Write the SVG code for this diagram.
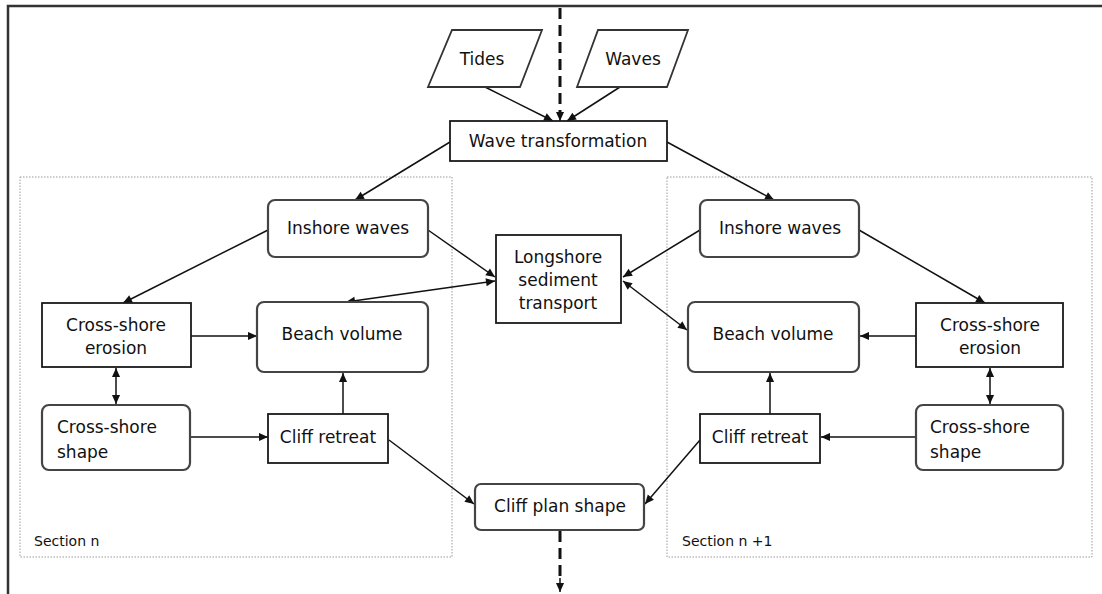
<svg xmlns="http://www.w3.org/2000/svg" width="1102" height="594" viewBox="0 0 1102 594">
  <defs>
    <marker id="arrow" viewBox="0 0 10 10" refX="10" refY="5" markerWidth="10" markerHeight="9" markerUnits="userSpaceOnUse" orient="auto-start-reverse">
      <path d="M0,0.5 L10,5 L0,9.5 Z" fill="#111"/>
    </marker>
    <style>
      .frame { fill: none; stroke: #333; stroke-width: 2.5; }
      .section { fill: none; stroke: #9a9a9a; stroke-width: 1; stroke-dasharray: 1.5 1.5; }
      .rbox { fill: #fff; stroke: #444; stroke-width: 2.2; }
      .sbox { fill: #fff; stroke: #1a1a1a; stroke-width: 1.8; }
      .para { fill: #fff; stroke: #333; stroke-width: 1.8; }
      .label { font-family: "DejaVu Sans", Verdana, sans-serif; font-size: 17px; fill: #111; text-anchor: middle; }
      .label-left { font-family: "DejaVu Sans", Verdana, sans-serif; font-size: 17px; fill: #111; text-anchor: start; }
      .small { font-family: "DejaVu Sans", Verdana, sans-serif; font-size: 14px; fill: #111; }
      .link { fill: none; stroke: #111; stroke-width: 1.5; marker-end: url(#arrow); }
      .both { marker-start: url(#arrow); }
      .trunk { fill: none; stroke: #111; stroke-width: 3; stroke-dasharray: 11 6; }
    </style>
  </defs>

  <rect width="1102" height="594" fill="#fff"/>

  <!-- outer frame: top and left edges -->
  <path class="frame" d="M8,594 V6 H1102"/>

  <!-- coastal sections -->
  <g id="section-n">
    <rect class="section" x="20" y="177" width="432" height="380"/>
    <text class="small" x="34" y="546">Section n</text>
  </g>
  <g id="section-n1">
    <rect class="section" x="667" y="177" width="425" height="380"/>
    <text class="small" x="682" y="546">Section n +1</text>
  </g>

  <!-- connectors -->
  <g id="connectors">
    <!-- longshore trunk through the model -->
    <path class="trunk" d="M560,8 V112"/>
    <path class="link" d="M560,110 V121"/>
    <path class="trunk" d="M560,531 V580"/>
    <path class="link" d="M560,578 V592"/>

    <path class="link" d="M485,87 L553,121"/>
    <path class="link" d="M620,87 L567,121"/>

    <path class="link" d="M450,142 L355,200"/>
    <path class="link" d="M667,142 L774,200"/>

    <!-- section n -->
    <path class="link" d="M268,230 L123,303"/>
    <path class="link" d="M428,230 L495,277"/>
    <path class="link both" d="M495,281 L346,302"/>
    <path class="link" d="M191,336 L257,336"/>
    <path class="link both" d="M116,368 L116,404"/>
    <path class="link" d="M190,437 L268,437"/>
    <path class="link" d="M343,414 L343,373"/>
    <path class="link" d="M389,440 L474,504"/>

    <!-- section n+1 -->
    <path class="link" d="M700,230 L623,277"/>
    <path class="link both" d="M623,281 L687,330"/>
    <path class="link" d="M859,230 L985,303"/>
    <path class="link" d="M916,336 L860,336"/>
    <path class="link both" d="M990,368 L990,404"/>
    <path class="link" d="M916,437 L821,437"/>
    <path class="link" d="M770,414 L770,373"/>
    <path class="link" d="M700,440 L645,504"/>
  </g>

  <!-- inputs -->
  <g id="tides">
    <path class="para" d="M452,30 H542 L520,87 H428 Z"/>
    <text class="label" x="482" y="65">Tides</text>
  </g>
  <g id="waves">
    <path class="para" d="M598,30 H688 L667,87 H577 Z"/>
    <text class="label" x="633" y="65">Waves</text>
  </g>

  <g id="wave-transformation">
    <rect class="sbox" x="450" y="121" width="217" height="40"/>
    <text class="label" x="558" y="147">Wave transformation</text>
  </g>

  <g id="longshore-transport">
    <rect class="sbox" x="496" y="235" width="125" height="88"/>
    <text class="label" x="558" y="263">Longshore</text>
    <text class="label" x="558" y="286">sediment</text>
    <text class="label" x="558" y="309">transport</text>
  </g>

  <g id="cliff-plan-shape">
    <rect class="rbox" x="475" y="484" width="169" height="46" rx="6"/>
    <text class="label" x="560" y="512">Cliff plan shape</text>
  </g>

  <!-- section n nodes -->
  <g id="inshore-waves-n">
    <rect class="rbox" x="268" y="200" width="160" height="57" rx="7"/>
    <text class="label" x="348" y="234">Inshore waves</text>
  </g>
  <g id="cross-shore-erosion-n">
    <rect class="sbox" x="42" y="303" width="149" height="64"/>
    <text class="label" x="116" y="331">Cross-shore</text>
    <text class="label" x="116" y="354">erosion</text>
  </g>
  <g id="beach-volume-n">
    <rect class="rbox" x="257" y="302" width="171" height="70" rx="7"/>
    <text class="label" x="342" y="340">Beach volume</text>
  </g>
  <g id="cross-shore-shape-n">
    <rect class="rbox" x="42" y="405" width="148" height="65" rx="7"/>
    <text class="label-left" x="57" y="433">Cross-shore</text>
    <text class="label-left" x="57" y="458">shape</text>
  </g>
  <g id="cliff-retreat-n">
    <rect class="sbox" x="268" y="414" width="120" height="49"/>
    <text class="label" x="328" y="443">Cliff retreat</text>
  </g>

  <!-- section n+1 nodes -->
  <g id="inshore-waves-n1">
    <rect class="rbox" x="700" y="200" width="159" height="57" rx="7"/>
    <text class="label" x="780" y="234">Inshore waves</text>
  </g>
  <g id="beach-volume-n1">
    <rect class="rbox" x="688" y="302" width="171" height="70" rx="7"/>
    <text class="label" x="773" y="340">Beach volume</text>
  </g>
  <g id="cross-shore-erosion-n1">
    <rect class="sbox" x="916" y="303" width="147" height="64"/>
    <text class="label" x="990" y="331">Cross-shore</text>
    <text class="label" x="990" y="354">erosion</text>
  </g>
  <g id="cross-shore-shape-n1">
    <rect class="rbox" x="916" y="405" width="147" height="65" rx="7"/>
    <text class="label-left" x="930" y="433">Cross-shore</text>
    <text class="label-left" x="930" y="458">shape</text>
  </g>
  <g id="cliff-retreat-n1">
    <rect class="sbox" x="700" y="414" width="120" height="49"/>
    <text class="label" x="760" y="443">Cliff retreat</text>
  </g>
</svg>
